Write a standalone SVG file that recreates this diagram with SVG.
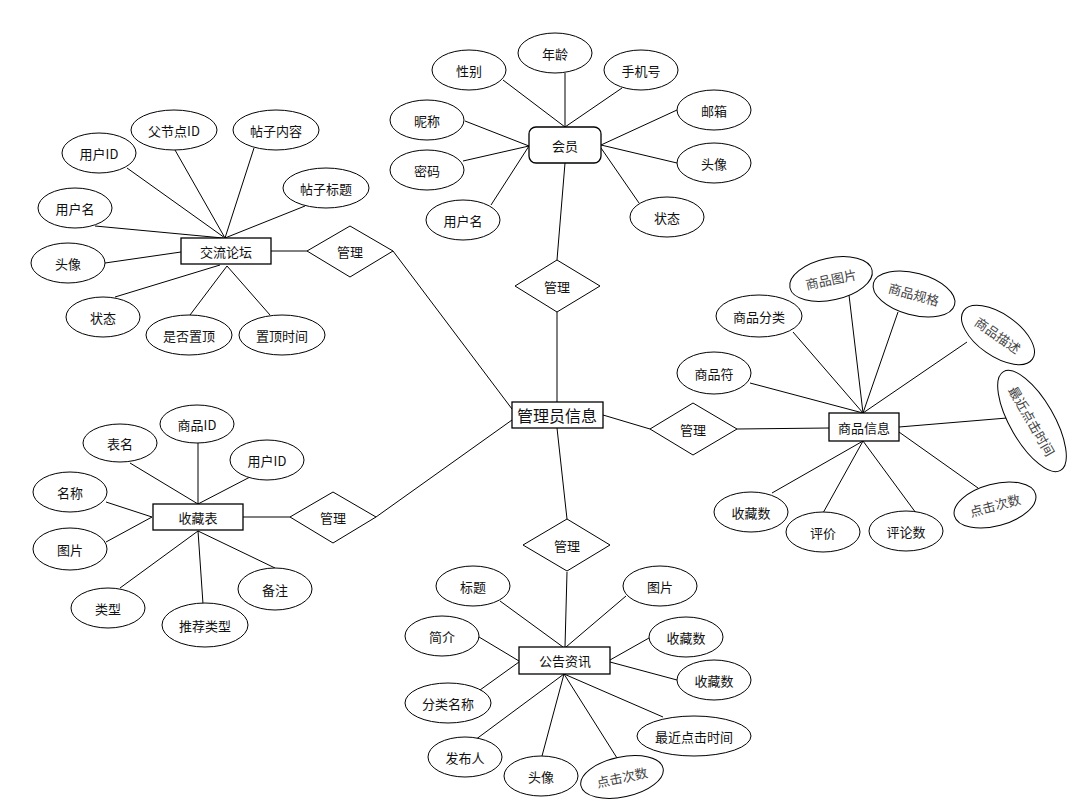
<svg xmlns="http://www.w3.org/2000/svg" width="1085" height="809" viewBox="0 0 1085 809">
<style>
.c line{stroke:#000;stroke-width:1}
ellipse,.r,.d{fill:#fff;stroke:#000;stroke-width:1}
.r{stroke-width:1.3}
text{font-family:"Noto Sans CJK SC","Liberation Sans",sans-serif;font-size:13px;fill:#111;text-anchor:middle;dominant-baseline:central}
.g text{fill:#444}
.big{font-size:16px}
</style>
<rect width="1085" height="809" fill="#fff"/>
<g id="connectors" class="c">
<!-- 会员 -->
<line x1="503" y1="80" x2="565" y2="127"/>
<line x1="565" y1="73" x2="565" y2="127"/>
<line x1="622" y1="88" x2="565" y2="127"/>
<line x1="677" y1="110" x2="601" y2="145"/>
<line x1="677" y1="163" x2="601" y2="145"/>
<line x1="639" y1="203" x2="601" y2="148"/>
<line x1="465" y1="121" x2="529" y2="146"/>
<line x1="463" y1="161" x2="529" y2="146"/>
<line x1="491" y1="205" x2="529" y2="146"/>
<line x1="565" y1="163" x2="557" y2="260"/>
<line x1="557" y1="312" x2="557" y2="402"/>
<!-- 商品信息 -->
<line x1="603" y1="415" x2="650" y2="429"/>
<line x1="737" y1="429" x2="829" y2="428"/>
<line x1="793" y1="332" x2="863" y2="413"/>
<line x1="849" y1="295" x2="863" y2="413"/>
<line x1="898" y1="312" x2="863" y2="413"/>
<line x1="967" y1="342" x2="863" y2="413"/>
<line x1="750" y1="383" x2="863" y2="413"/>
<line x1="899" y1="427" x2="1007" y2="418"/>
<line x1="772" y1="493" x2="863" y2="441"/>
<line x1="823" y1="513" x2="863" y2="441"/>
<line x1="916" y1="513" x2="863" y2="441"/>
<line x1="978" y1="488" x2="899" y2="432"/>
<!-- 交流论坛 -->
<line x1="127" y1="168" x2="225" y2="238"/>
<line x1="175" y1="150" x2="225" y2="238"/>
<line x1="254" y1="148" x2="225" y2="238"/>
<line x1="305" y1="206" x2="225" y2="238"/>
<line x1="95" y1="226" x2="223" y2="238"/>
<line x1="105" y1="263" x2="181" y2="252"/>
<line x1="115" y1="297" x2="220" y2="265"/>
<line x1="190" y1="315" x2="227" y2="266"/>
<line x1="270" y1="315" x2="227" y2="266"/>
<line x1="271" y1="251" x2="307" y2="251"/>
<line x1="393" y1="251" x2="512" y2="409"/>
<!-- 收藏表 -->
<line x1="198" y1="443" x2="198" y2="504"/>
<line x1="130" y1="463" x2="198" y2="504"/>
<line x1="250" y1="477" x2="198" y2="504"/>
<line x1="106" y1="502" x2="152" y2="517"/>
<line x1="106" y1="542" x2="152" y2="517"/>
<line x1="120" y1="588" x2="198" y2="531"/>
<line x1="203" y1="604" x2="198" y2="531"/>
<line x1="275" y1="568" x2="198" y2="531"/>
<line x1="243" y1="517" x2="290" y2="517"/>
<line x1="376" y1="517" x2="512" y2="420"/>
<!-- 公告资讯 -->
<line x1="557" y1="428" x2="567" y2="519"/>
<line x1="567" y1="572" x2="565" y2="647"/>
<line x1="500" y1="601" x2="563" y2="647"/>
<line x1="626" y1="596" x2="566" y2="647"/>
<line x1="479" y1="637" x2="519" y2="661"/>
<line x1="480" y1="690" x2="519" y2="662"/>
<line x1="649" y1="638" x2="610" y2="660"/>
<line x1="677" y1="680" x2="610" y2="662"/>
<line x1="475" y1="740" x2="564" y2="674"/>
<line x1="542" y1="756" x2="564" y2="674"/>
<line x1="617" y1="758" x2="564" y2="674"/>
<line x1="663" y1="717" x2="564" y2="674"/>
</g>

<!-- 会员 entity and attributes -->
<g id="member"><rect class="r" x="529" y="127" width="72" height="36" rx="7"/><text x="565" y="145">会员</text></g>
<g id="m-gender"><ellipse cx="469" cy="70" rx="37" ry="20"/><text x="469" y="70">性别</text></g>
<g id="m-age"><ellipse cx="555" cy="53" rx="37" ry="20"/><text x="555" y="53">年龄</text></g>
<g id="m-phone"><ellipse cx="641" cy="70" rx="37" ry="20"/><text x="641" y="70">手机号</text></g>
<g id="m-nick"><ellipse cx="427" cy="120" rx="37" ry="20"/><text x="427" y="120">昵称</text></g>
<g id="m-pwd"><ellipse cx="427" cy="170" rx="37" ry="20"/><text x="427" y="170">密码</text></g>
<g id="m-user"><ellipse cx="463" cy="220" rx="37" ry="20"/><text x="463" y="220">用户名</text></g>
<g id="m-mail"><ellipse cx="714" cy="110" rx="37" ry="20"/><text x="714" y="110">邮箱</text></g>
<g id="m-avatar"><ellipse cx="714" cy="163" rx="37" ry="20"/><text x="714" y="163">头像</text></g>
<g id="m-state"><ellipse cx="667" cy="217" rx="37" ry="20"/><text x="667" y="217">状态</text></g>
<g id="rel-member"><polygon class="d" points="557,260 600,286 557,312 515,286"/><text x="557" y="286">管理</text></g>

<!-- 管理员信息 -->
<g id="admin"><rect class="r" x="512" y="402" width="91" height="26"/><text class="big" x="557" y="415">管理员信息</text></g>

<!-- 商品信息 -->
<g id="rel-goods"><polygon class="d" points="693,403 737,429 693,455 650,429"/><text x="693" y="429">管理</text></g>
<g id="goods"><rect class="r" x="829" y="413" width="70" height="28"/><text x="864" y="427">商品信息</text></g>
<g id="g-cat"><ellipse cx="759" cy="316" rx="43" ry="21"/><text x="759" y="316">商品分类</text></g>
<g id="g-pic" class="g"><ellipse cx="831" cy="279" rx="42" ry="21" transform="rotate(-12 831 279)"/><text x="831" y="279" transform="rotate(-12 831 279)">商品图片</text></g>
<g id="g-spec" class="g"><ellipse cx="914" cy="294" rx="42" ry="21" transform="rotate(15 914 294)"/><text x="914" y="294" transform="rotate(15 914 294)">商品规格</text></g>
<g id="g-desc" class="g"><ellipse cx="998" cy="335" rx="42" ry="21" transform="rotate(35 998 335)"/><text x="998" y="335" transform="rotate(35 998 335)">商品描述</text></g>
<g id="g-sym"><ellipse cx="714" cy="373" rx="37" ry="21"/><text x="714" y="373">商品符</text></g>
<g id="g-last" class="g"><ellipse cx="1032" cy="421" rx="57" ry="22" transform="rotate(60 1032 421)"/><text x="1032" y="421" transform="rotate(60 1032 421)">最近点击时间</text></g>
<g id="g-clicks" class="g"><ellipse cx="995" cy="505" rx="42" ry="21" transform="rotate(-15 995 505)"/><text x="995" y="505" transform="rotate(-15 995 505)">点击次数</text></g>
<g id="g-fav"><ellipse cx="751" cy="512" rx="37" ry="20"/><text x="751" y="512">收藏数</text></g>
<g id="g-rate"><ellipse cx="823" cy="532" rx="37" ry="20"/><text x="823" y="532">评价</text></g>
<g id="g-cmt"><ellipse cx="906" cy="531" rx="37" ry="20"/><text x="906" y="531">评论数</text></g>

<!-- 交流论坛 -->
<g id="forum"><rect class="r" x="181" y="238" width="90" height="26"/><text x="226" y="251">交流论坛</text></g>
<g id="f-uid"><ellipse cx="99" cy="153" rx="37" ry="20"/><text x="99" y="153">用户ID</text></g>
<g id="f-pid"><ellipse cx="174" cy="130" rx="43" ry="20"/><text x="174" y="130">父节点ID</text></g>
<g id="f-content"><ellipse cx="276" cy="130" rx="43" ry="20"/><text x="276" y="130">帖子内容</text></g>
<g id="f-title"><ellipse cx="326" cy="188" rx="43" ry="20"/><text x="326" y="188">帖子标题</text></g>
<g id="f-user"><ellipse cx="75" cy="208" rx="37" ry="20"/><text x="75" y="208">用户名</text></g>
<g id="f-avatar"><ellipse cx="68" cy="263" rx="37" ry="20"/><text x="68" y="263">头像</text></g>
<g id="f-state"><ellipse cx="103" cy="317" rx="37" ry="20"/><text x="103" y="317">状态</text></g>
<g id="f-top"><ellipse cx="189" cy="335" rx="43" ry="20"/><text x="189" y="335">是否置顶</text></g>
<g id="f-toptime"><ellipse cx="282" cy="335" rx="43" ry="20"/><text x="282" y="335">置顶时间</text></g>
<g id="rel-forum"><polygon class="d" points="350,226 393,251 350,277 307,251"/><text x="350" y="251">管理</text></g>

<!-- 收藏表 -->
<g id="fav"><rect class="r" x="153" y="504" width="90" height="26"/><text x="198" y="517">收藏表</text></g>
<g id="v-gid"><ellipse cx="197" cy="424" rx="37" ry="19"/><text x="197" y="424">商品ID</text></g>
<g id="v-tname"><ellipse cx="120" cy="443" rx="37" ry="19"/><text x="120" y="443">表名</text></g>
<g id="v-uid"><ellipse cx="267" cy="460" rx="37" ry="20"/><text x="267" y="460">用户ID</text></g>
<g id="v-name"><ellipse cx="70" cy="492" rx="37" ry="20"/><text x="70" y="492">名称</text></g>
<g id="v-pic"><ellipse cx="70" cy="549" rx="37" ry="21"/><text x="70" y="549">图片</text></g>
<g id="v-type"><ellipse cx="108" cy="608" rx="37" ry="20"/><text x="108" y="608">类型</text></g>
<g id="v-rtype"><ellipse cx="205" cy="625" rx="43" ry="22"/><text x="205" y="625">推荐类型</text></g>
<g id="v-note"><ellipse cx="275" cy="589" rx="37" ry="21"/><text x="275" y="589">备注</text></g>
<g id="rel-fav"><polygon class="d" points="333,492 376,517 333,543 290,517"/><text x="333" y="517">管理</text></g>

<!-- 公告资讯 -->
<g id="rel-news"><polygon class="d" points="567,519 610,545 567,571 523,545"/><text x="567" y="545">管理</text></g>
<g id="news"><rect class="r" x="519" y="647" width="91" height="27"/><text x="565" y="660">公告资讯</text></g>
<g id="n-title"><ellipse cx="473" cy="586" rx="37" ry="20"/><text x="473" y="586">标题</text></g>
<g id="n-pic"><ellipse cx="660" cy="586" rx="37" ry="20"/><text x="660" y="586">图片</text></g>
<g id="n-intro"><ellipse cx="442" cy="636" rx="37" ry="20"/><text x="442" y="636">简介</text></g>
<g id="n-fav1"><ellipse cx="686" cy="637" rx="37" ry="20"/><text x="686" y="637">收藏数</text></g>
<g id="n-fav2"><ellipse cx="714" cy="680" rx="37" ry="20"/><text x="714" y="680">收藏数</text></g>
<g id="n-cat"><ellipse cx="448" cy="703" rx="43" ry="20"/><text x="448" y="703">分类名称</text></g>
<g id="n-last"><ellipse cx="694" cy="736" rx="57" ry="20"/><text x="694" y="736">最近点击时间</text></g>
<g id="n-pub"><ellipse cx="465" cy="757" rx="37" ry="20"/><text x="465" y="757">发布人</text></g>
<g id="n-avatar"><ellipse cx="541" cy="776" rx="37" ry="20"/><text x="541" y="776">头像</text></g>
<g id="n-clicks" class="g"><ellipse cx="622" cy="777" rx="42" ry="20" transform="rotate(-12 622 777)"/><text x="622" y="777" transform="rotate(-12 622 777)">点击次数</text></g>
</svg>
